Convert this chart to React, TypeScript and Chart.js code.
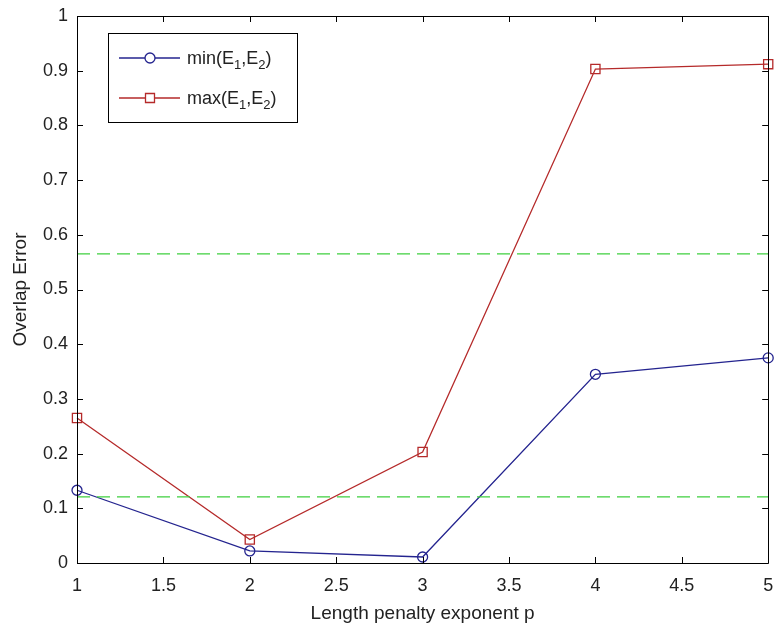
import React, { useEffect, useRef } from "react";
import { Chart, registerables } from "chart.js";

Chart.register(...registerables);

const exponents = [1, 2, 3, 4, 5];
const minError = [0.133, 0.022, 0.011, 0.345, 0.375];
const maxError = [0.265, 0.043, 0.203, 0.903, 0.912];
const refLineX = [1, 5];
const refUpper = [0.565, 0.565];
const refLower = [0.121, 0.121];
const legendLabels = [
  { main: "min(E", sub1: "1", mid: ",E", sub2: "2", end: ")" },
  { main: "max(E", sub1: "1", mid: ",E", sub2: "2", end: ")" },
];
const xTitle = "Length penalty exponent p";
const yTitle = "Overlap Error";

const BLUE = "#24248f";
const RED = "#b52a2a";
const GREEN = "#3fcf3f";
const FONT = "'Liberation Sans', Arial, Helvetica, sans-serif";

const framePlugin = {
  id: "matlabFrame",
  afterDraw(chart: any) {
    const { ctx, chartArea: a, scales } = chart;
    const tl = 6;
    ctx.save();
    ctx.strokeStyle = "#000";
    ctx.lineWidth = 1;
    ctx.beginPath();
    ctx.rect(Math.round(a.left) + 0.5, Math.round(a.top) + 0.5, Math.round(a.right - a.left), Math.round(a.bottom - a.top));
    ctx.stroke();
    ctx.beginPath();
    for (const t of scales.x.ticks) {
      const px = Math.round(scales.x.getPixelForValue(t.value)) + 0.5;
      ctx.moveTo(px, a.bottom);
      ctx.lineTo(px, a.bottom - tl);
      ctx.moveTo(px, a.top);
      ctx.lineTo(px, a.top + tl);
    }
    for (const t of scales.y.ticks) {
      const py = Math.round(scales.y.getPixelForValue(t.value)) + 0.5;
      ctx.moveTo(a.left, py);
      ctx.lineTo(a.left + tl, py);
      ctx.moveTo(a.right, py);
      ctx.lineTo(a.right - tl, py);
    }
    ctx.stroke();

    // axis titles
    ctx.fillStyle = "#222";
    ctx.font = `19px ${FONT}`;
    ctx.textAlign = "center";
    ctx.textBaseline = "alphabetic";
    ctx.fillText(xTitle, (a.left + a.right) / 2, 619);
    ctx.save();
    ctx.translate(26, (a.top + a.bottom) / 2);
    ctx.rotate(-Math.PI / 2);
    ctx.fillText(yTitle, 0, 0);
    ctx.restore();

    // legend
    const lx = 108, ly = 33, lw = 189, lh = 89;
    ctx.fillStyle = "#fff";
    ctx.fillRect(lx, ly, lw, lh);
    ctx.strokeStyle = "#000";
    ctx.strokeRect(lx + 0.5, ly + 0.5, lw, lh);
    const rows = [
      { y: 58, color: BLUE, style: "circle" },
      { y: 98, color: RED, style: "rect" },
    ];
    rows.forEach((r, i) => {
      ctx.strokeStyle = r.color;
      ctx.lineWidth = 1.3;
      ctx.beginPath();
      ctx.moveTo(119, r.y);
      ctx.lineTo(180, r.y);
      ctx.stroke();
      ctx.fillStyle = "#fff";
      ctx.beginPath();
      if (r.style === "circle") ctx.arc(150, r.y, 5, 0, Math.PI * 2);
      else ctx.rect(145.5, r.y - 4.5, 9, 9);
      ctx.fill();
      ctx.stroke();
      const L = legendLabels[i];
      ctx.fillStyle = "#222";
      ctx.textAlign = "left";
      ctx.textBaseline = "alphabetic";
      let x = 187;
      const base = r.y + 6;
      const big = `18px ${FONT}`;
      const small = `13px ${FONT}`;
      const parts: [string, string, number][] = [
        [L.main, big, 0],
        [L.sub1, small, 5],
        [L.mid, big, 0],
        [L.sub2, small, 5],
        [L.end, big, 0],
      ];
      for (const [txt, f, dy] of parts) {
        ctx.font = f;
        ctx.fillText(txt, x, base + dy);
        x += ctx.measureText(txt).width;
      }
    });
    ctx.restore();
  },
};

export default function App() {
  const ref = useRef<HTMLCanvasElement | null>(null);
  useEffect(() => {
    document.body.style.margin = "0";
    const canvas = ref.current!;
    const toXY = (ys: number[], xs: number[]) => xs.map((x, i) => ({ x, y: ys[i] }));
    const chart = new Chart(canvas, {
      type: "line",
      data: {
        datasets: [
          {
            label: "refUpper",
            data: toXY(refUpper, refLineX),
            borderColor: GREEN,
            borderWidth: 1.3,
            borderDash: [13, 7],
            pointRadius: 0,
            clip: false as any,
          },
          {
            label: "refLower",
            data: toXY(refLower, refLineX),
            borderColor: GREEN,
            borderWidth: 1.3,
            borderDash: [13, 7],
            pointRadius: 0,
            clip: false as any,
          },
          {
            label: "min",
            data: toXY(minError, exponents),
            borderColor: BLUE,
            borderWidth: 1.3,
            pointStyle: "circle",
            pointRadius: 5,
            pointBorderColor: BLUE,
            pointBackgroundColor: "rgba(0,0,0,0)",
            pointBorderWidth: 1.3,
            clip: false as any,
          },
          {
            label: "max",
            data: toXY(maxError, exponents),
            borderColor: RED,
            borderWidth: 1.3,
            pointStyle: "rect",
            pointRadius: 6.5,
            pointBorderColor: RED,
            pointBackgroundColor: "rgba(0,0,0,0)",
            pointBorderWidth: 1.3,
            clip: false as any,
          },
        ],
      },
      options: {
        animation: false,
        responsive: false,
        devicePixelRatio: 1,
        layout: { padding: { top: 16, right: 4, left: 0, bottom: 0 } },
        plugins: { legend: { display: false }, tooltip: { enabled: false } },
        scales: {
          x: {
            type: "linear",
            min: 1,
            max: 5,
            border: { display: false },
            grid: { display: false, drawTicks: false },
            ticks: {
              stepSize: 0.5,
              padding: 12,
              color: "#222",
              font: { family: FONT, size: 18 },
              maxRotation: 0,
              callback: (v: any) => String(Number(Number(v).toFixed(1))),
            },
            afterFit: (s: any) => {
              s.height = 67;
              s.paddingLeft = 0;
              s.paddingRight = 0;
            },
          },
          y: {
            type: "linear",
            min: 0,
            max: 1,
            border: { display: false },
            grid: { display: false, drawTicks: false },
            ticks: {
              stepSize: 0.1,
              padding: 9,
              color: "#222",
              font: { family: FONT, size: 18 },
              callback: (v: any) => String(Number(Number(v).toFixed(1))),
            },
            afterFit: (s: any) => {
              s.width = 77;
              s.paddingTop = 0;
              s.paddingBottom = 0;
            },
          },
        },
      },
      plugins: [framePlugin],
    });
    return () => chart.destroy();
  }, []);
  return (
    <div style={{ position: "fixed", left: 0, top: 0, width: 776, height: 630, background: "#fff" }}>
      <canvas ref={ref} width={776} height={630} style={{ width: 776, height: 630 }} />
    </div>
  );
}
